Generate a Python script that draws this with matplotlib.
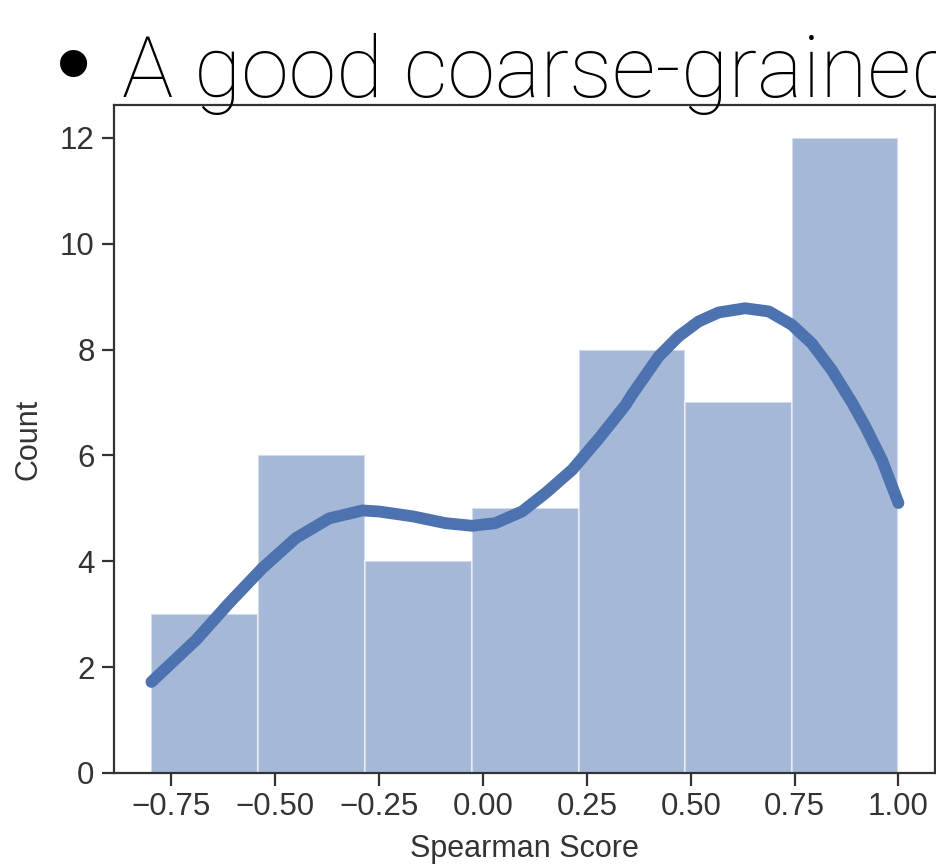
import numpy as np
import matplotlib.pyplot as plt

# histogram of Spearman scores (7 bins) plus its KDE curve
bin_edges = [-0.798, -0.541, -0.284, -0.027, 0.230, 0.487, 0.743, 1.000]
counts = [3, 6, 4, 5, 8, 7, 12]

kde_x = [-0.798, -0.691, -0.611, -0.531, -0.450, -0.370, -0.290, -0.250,
         -0.170, -0.090, -0.026, 0.030, 0.094, 0.151, 0.215, 0.279, 0.343,
         0.359, 0.423, 0.471, 0.519, 0.567, 0.631, 0.688, 0.743, 0.791,
         0.839, 0.888, 0.920, 0.960, 1.000]
kde_y = [1.72, 2.51, 3.21, 3.87, 4.44, 4.81, 4.96, 4.94,
         4.85, 4.72, 4.67, 4.72, 4.94, 5.29, 5.73, 6.32, 6.95,
         7.15, 7.87, 8.25, 8.53, 8.70, 8.78, 8.72, 8.47, 8.12,
         7.62, 7.00, 6.55, 5.92, 5.10]

xticks = [-0.75, -0.50, -0.25, 0.00, 0.25, 0.50, 0.75, 1.00]
yticks = [0, 2, 4, 6, 8, 10, 12]

blue = '#4c72b0'
ink = '#333333'
plt.rcParams['font.family'] = ['Liberation Sans', 'DejaVu Sans']

fig = plt.figure(figsize=(9.37, 8.68), dpi=100)
ax = fig.add_axes([114 / 937, 95 / 868, 821 / 937, 668 / 868])

edges = np.array(bin_edges)
ax.bar(edges[:-1], counts, width=np.diff(edges), align='edge',
       color=blue, alpha=0.5, edgecolor='white', linewidth=1.5)
ax.plot(kde_x, kde_y, color=blue, linewidth=8.5,
        solid_capstyle='round', solid_joinstyle='round')

ax.set_xlim(-0.888, 1.088)
ax.set_ylim(0, 12.62)
ax.set_xticks(xticks)
ax.set_xticklabels(['\u22120.75', '\u22120.50', '\u22120.25', '0.00',
                    '0.25', '0.50', '0.75', '1.00'])
ax.set_yticks(yticks)
ax.tick_params(direction='out', length=9, width=1.6, colors=ink,
               labelsize=22.5, labelcolor=ink, pad=5)
for s in ax.spines.values():
    s.set_color(ink)
    s.set_linewidth(1.6)
ax.set_xlabel('Spearman Score', fontsize=22, color=ink, labelpad=8)
ax.set_ylabel('Count', fontsize=22, color=ink, labelpad=12)

# slide bullet text sitting over the top of the plot
fig.text(56 / 937, 1 - 97 / 868, '\u2022', fontsize=72,
         family=['Liberation Sans', 'DejaVu Sans'], color='black', zorder=10)
fig.text(122 / 937, 1 - 97 / 868, 'A good coarse-grained',
         fontsize=62, family=['Roboto', 'DejaVu Sans'], fontweight='light',
         color='black', zorder=10)

fig.savefig('out.png', dpi=100)
